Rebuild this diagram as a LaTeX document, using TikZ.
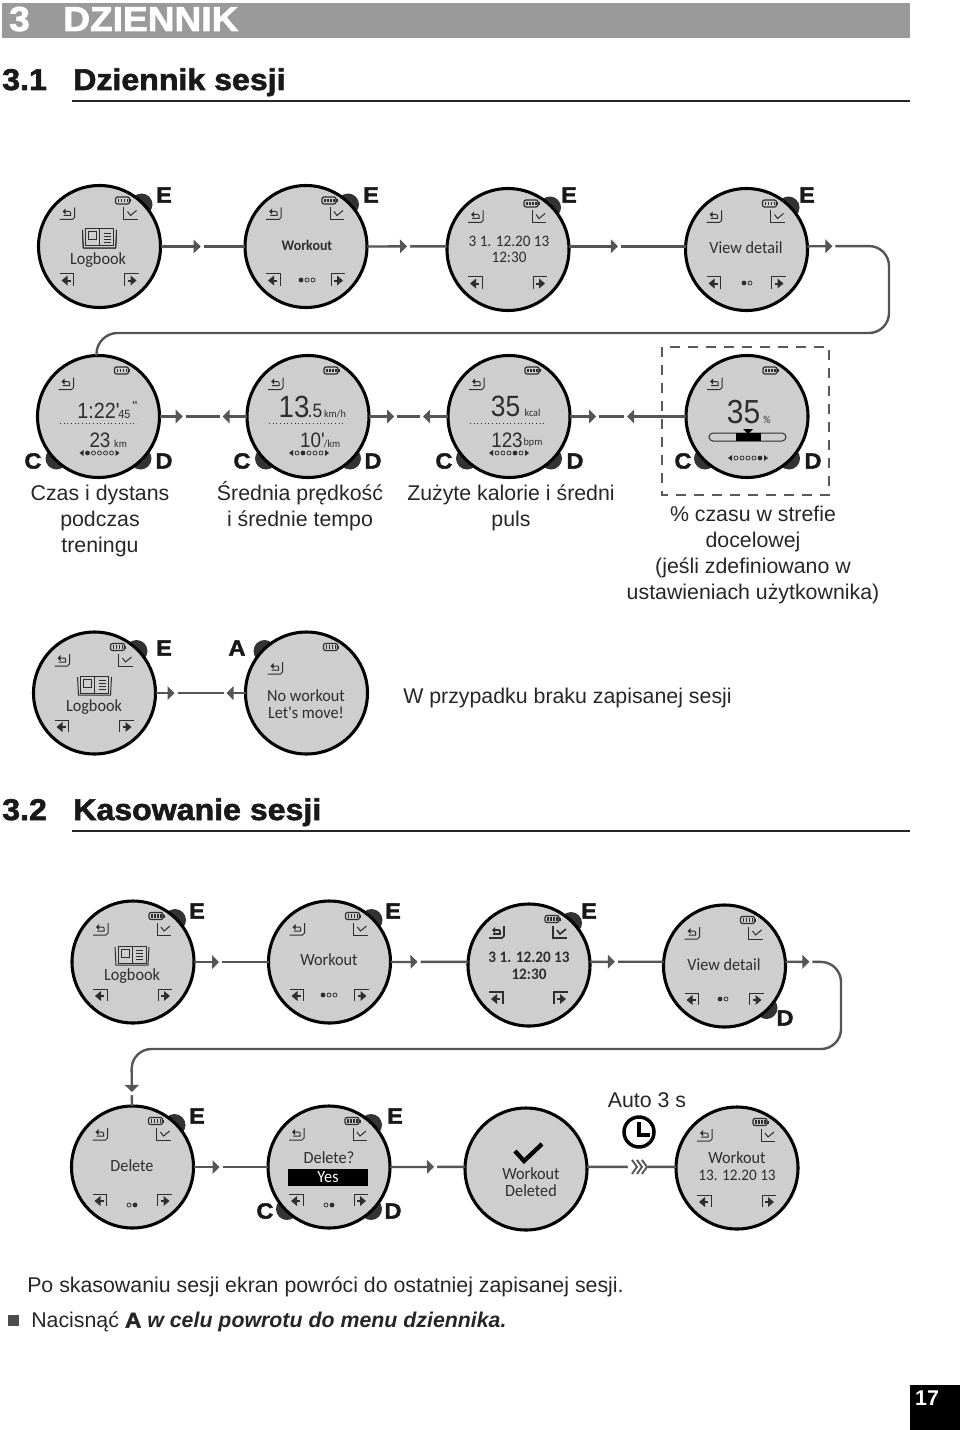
\documentclass[tikz,border=0pt]{standalone}
\usepackage{fontspec}
\setmainfont{Liberation Sans}
\newfontfamily\heavyfont[FakeBold=2,FakeStretch=1.07]{Liberation Sans Bold}
\newfontfamily\lcdfont[FakeStretch=0.95]{Carlito}
\newfontfamily\segfont[FakeStretch=0.9]{Liberation Sans}
\usetikzlibrary{decorations.markings}
\usetikzlibrary{positioning}
\definecolor{fg}{rgb}{0,0,0}
\definecolor{facegray}{HTML}{CECECE}
\definecolor{linkgray}{HTML}{555555}
\definecolor{bandgray}{HTML}{9A9A9A}
\definecolor{lcdink}{HTML}{2E2E2E}
\tikzstyle{face}=[circle, draw=fg, fill=facegray, line width=2.3pt, minimum size=91.5pt, inner sep=0pt, outer sep=0pt]
\tikzstyle{knob}=[fill=black!80]
\tikzstyle{key}=[font=\heavyfont\fontsize{16.5}{17}\selectfont, text=black!90, inner sep=0pt]
\tikzstyle{body}=[font=\fontsize{16}{19.5}\selectfont, text=black!85, align=center, inner sep=0pt]
\tikzstyle{lcd}=[font=\lcdfont\fontsize{12.8}{14}\selectfont, text=lcdink, inner sep=0pt]
\tikzstyle{lcddate}=[font=\lcdfont\fontsize{12}{13}\selectfont, text=lcdink, inner sep=0pt]
\tikzstyle{lcdsmall}=[font=\lcdfont\fontsize{8}{9}\selectfont, text=lcdink, inner sep=0pt, anchor=base]
\tikzstyle{seg}=[text=lcdink, inner sep=0pt, anchor=base]
\tikzstyle{ico}=[draw=lcdink, line width=0.75pt]
\tikzstyle{icofill}=[fill=lcdink]
\tikzstyle{headline}=[font=\heavyfont\fontsize{22.5}{23}\selectfont, text=black!90, inner sep=0pt, anchor=base west]
\tikzstyle{bandtext}=[font=\heavyfont\fontsize{26}{27}\selectfont, text=white, inner sep=0pt, anchor=base west]
\tikzstyle{rule}=[line width=1.2pt, draw=black!85]
\tikzstyle{link}=[draw=linkgray, line width=1.8pt]
\tikzset{
    fwdtip/.style={postaction={decorate, decoration={markings, mark=at position #1*0.75pt with {
        \fill[white, sharp corners] (3,-2) rectangle (7,2);
        \fill[linkgray, sharp corners] (-3,-7) -- (4,0) -- (-3,7) -- cycle;}}}},
    backtip/.style={postaction={decorate, decoration={markings, mark=at position #1*0.75pt with {
        \fill[white, sharp corners] (-3,-2) rectangle (-7,2);
        \fill[linkgray, sharp corners] (3,-7) -- (-4,0) -- (3,7) -- cycle;}}}},
    autotip/.style={postaction={decorate, decoration={markings, mark=at position #1*0.75pt with {
        \fill[white, sharp corners] (-10,-8) rectangle (10,8);
        \foreach \c in {-6,-1,4} \draw[linkgray, line width=1.4pt, sharp corners] (\c,-7) -- (\c+5,0) -- (\c,7);}}}},
    backicon/.pic={
        \draw[ico] (-8,6) -- (5,6) -- (7,4) -- (7,-6);
        \draw[ico] (-3,-2) -- (2,-2) -- (3,-1) -- (3,2) -- (-4,2);
        \fill[icofill] (-5,-2) -- (-2,-5) -- (-2,1) -- cycle;
    },
    checkicon/.pic={
        \draw[ico] (-7,-6) -- (-7,6) -- (7,6);
        \draw[ico] (-3,-2) -- (0,2) -- (6,-3);
    },
    lefticon/.pic={
        \draw[ico] (-8,-6) -- (6,-6) -- (6,6);
        \draw[ico, line width=1.5pt] (-2,1) -- (3,1);
        \fill[icofill] (-6,1) -- (0,-4) -- (0,6) -- cycle;
    },
    righticon/.pic={
        \draw[ico] (8,-6) -- (-6,-6) -- (-6,6);
        \draw[ico, line width=1.5pt] (2,1) -- (-3,1);
        \fill[icofill] (6,1) -- (0,-4) -- (0,6) -- cycle;
    },
    batteryicon/.pic={
        \draw[ico, line width=0.9pt, rounded corners=1.5pt, fill=facegray] (-7,-3.5) rectangle (7,3.5);
        \fill[icofill] (7,-1.5) rectangle (8.5,1.5);
        \foreach \c in {-5,-2,1,4} \fill[icofill] (\c,-1.8) rectangle (\c+1.8,1.8);
    },
    bookicon/.pic={
        \draw[ico, fill=facegray] (-17,-8) -- (-16,10) -- (16,10) -- (17,-8);
        \draw[ico, fill=facegray] (-14,-9) rectangle (0,8);
        \draw[ico, fill=facegray] (0,-9) rectangle (14,8);
        \draw[ico] (-11,-6) rectangle (-3,2);
        \foreach \c in {-5,-2,1,4} \draw[ico, line width=0.5pt] (4,\c) -- (11,\c);
    },
}
% watch with its side buttons
\newcommand{\watch}[4]{
    \foreach \bx/\by in {#4} \fill[knob] (#2+\bx,#3+\by) circle (11);
    \node[face] (#1) at (#2,#3) {};
}
% the four corner symbols of a menu screen
\newcommand{\menuicons}[1]{
    \pic at ([shift={(-32,-33)}]#1.center) {backicon};
    \pic at ([shift={(31,-33)}]#1.center) {checkicon};
    \pic at ([shift={(-32,33)}]#1.center) {lefticon};
    \pic at ([shift={(31,33)}]#1.center) {righticon};
    \pic at ([shift={(23,-46)}]#1.center) {batteryicon};
}
\newcommand{\dotrow}[4]{
    \foreach \i in {1,...,#3} {
        \pgfmathsetmacro\dx{(\i-(#3+1)/2)*6}
        \ifnum\i=#4
            \fill[icofill] (#1+\dx,#2) circle (2.4);
        \else
            \draw[ico, line width=0.55pt] (#1+\dx,#2) circle (2);
        \fi
    }
}
\newcommand{\dotarrows}[2]{
    \fill[icofill] (#1-20,#2) -- (#1-16,#2-3) -- (#1-16,#2+3) -- cycle;
    \fill[icofill] (#1+20,#2) -- (#1+16,#2-3) -- (#1+16,#2+3) -- cycle;
}

\begin{document}
\begin{tikzpicture}[x=0.75pt, y=-0.75pt]
    \useasboundingbox (0,0) rectangle (960,1430);

    % title band
    \fill[bandgray] (2,3) rectangle (910,38);
    \node[bandtext] (chapnum) at (9,31) {3};
    \node[bandtext] (chaptitle) at (63,31) {DZIENNIK};

    % 3.1
    \node[headline] (secAnum) at (2,90) {3.1};
    \node[headline] (secAtitle) at (73,90) {Dziennik sesji};
    \draw[rule] (72,101) -- (910,101);

    \watch{logA}{99.5}{246.5}{42/-42}
    \watch{workA}{306}{246.5}{42/-42}
    \watch{dateA}{508}{249.5}{42/-42}
    \watch{viewA}{746.5}{249.5}{42/-42}
    \foreach \w in {logA, workA, dateA, viewA} \menuicons{\w}
    \pic at (99.5,238) {bookicon};
    \node[lcd] (logAt) at (98,260) {Logbook};
    \node[lcd, font=\lcdfont\bfseries\fontsize{11}{12}\selectfont] (workAt) at (307,245) {Workout};
    \dotrow{307}{280}{3}{1}
    \node[lcddate] (dateAt) at (509,241) {3 1. 12.20 13};
    \node[lcddate] (timeAt) at (509,257) {12:30};
    \node[lcd] (viewAt) at (746,248) {View detail};
    \dotrow{747}{283}{2}{1}
    \node[key] (eA) at (164,195) {E};
    \node[key] (eB) at (371,195) {E};
    \node[key] (eC) at (569,195) {E};
    \node[key] (eD) at (807,195) {E};

    \watch{timeB}{98.5}{416.5}{-42/42,42/42}
    \watch{speedB}{308}{416.5}{-42/42,42/42}
    \watch{calB}{509}{416.5}{-42/42,42/42}
    \watch{zoneB}{747}{416.5}{-42/42,42/42}
    \foreach \w in {timeB, speedB, calB, zoneB} {
        \pic at ([shift={(-32,-33)}]\w.center) {backicon};
        \pic at ([shift={(23,-46)}]\w.center) {batteryicon};
    }
    \node[seg, font=\segfont\fontsize{16.5}{17}\selectfont] (timeBa) at (98.5,418) {1:22'};
    \node[seg, font=\segfont\fontsize{9}{10}\selectfont] (timeBb) at (124.5,418) {45};
    \node[seg, font=\segfont\fontsize{11}{12}\selectfont] (timeBc) at (135,411) {"};
    \draw[ico, dotted] (60,423) -- (137,423);
    \node[seg, font=\segfont\fontsize{15.7}{16}\selectfont] (timeBd) at (100,447) {23};
    \node[lcdsmall] (timeBe) at (120.5,447) {km};
    \dotrow{99.5}{453}{5}{1} \dotarrows{99.5}{453}

    \node[seg, font=\segfont\fontsize{23}{24}\selectfont] (speedBa) at (294,417) {13};
    \node[seg, font=\segfont\fontsize{14.5}{15}\selectfont] (speedBb) at (315,417) {.5};
    \node[lcdsmall] (speedBc) at (335,417) {km/h};
    \draw[ico, dotted] (269,423) -- (346,423);
    \node[seg, font=\segfont\fontsize{15.7}{16}\selectfont] (speedBd) at (312.5,447) {10'};
    \node[lcdsmall] (speedBe) at (332,447) {/km};
    \dotrow{309}{453}{5}{2} \dotarrows{309}{453}

    \node[seg, font=\segfont\fontsize{22}{23}\selectfont] (calBa) at (505.5,416) {35};
    \node[lcdsmall] (calBb) at (532.5,416) {kcal};
    \draw[ico, dotted] (470,423) -- (547,423);
    \node[seg, font=\segfont\fontsize{15.7}{16}\selectfont] (calBc) at (507,447) {123};
    \node[lcdsmall] (calBd) at (533,445) {bpm};
    \dotrow{509}{453}{5}{4} \dotarrows{509}{453}

    \node[seg, font=\segfont\fontsize{25}{26}\selectfont] (zoneBa) at (743.5,423) {35};
    \node[lcdsmall] (zoneBb) at (767,423) {\%};
    \draw[ico, rounded corners=3pt] (709,433) rectangle (786,441);
    \fill[black] (736,433) rectangle (761,441);
    \fill[black] (743,429) -- (753,429) -- (748,434) -- cycle;
    \dotrow{748}{458}{5}{5} \dotarrows{748}{458}

    \node[key] (cB) at (33,461) {C};
    \node[key] (dB) at (164,461) {D};
    \node[key] (cC) at (242,461) {C};
    \node[key] (dC) at (373,461) {D};
    \node[key] (cD) at (444,461) {C};
    \node[key] (dD) at (575,461) {D};
    \node[key] (cE) at (683,461) {C};
    \node[key] (dE) at (813,461) {D};

    \draw[black!65, line width=0.9pt, dash pattern=on 7.5pt off 6pt] (662,347) rectangle (829,495);

    \node[body] (capA) at (100,521) {Czas i dystans\\podczas\\treningu};
    \node[body] (capB) at (300,506) {Średnia prędkość\\i średnie tempo};
    \node[body] (capC) at (511,508) {Zużyte kalorie i średni\\puls};
    \node[body] (capD) at (753,555) {\% czasu w strefie\\docelowej\\(jeśli zdefiniowano w\\ustawieniach użytkownika)};

    \coordinate (turnA) at (889,246);
    \coordinate (turnB) at (889,333);
    \coordinate (turnC) at (97.5,333);
    \draw[link, fwdtip=36] (logA) -- (workA);
    \draw[link, fwdtip=36] (workA.east) -- (dateA.177);
    \draw[link, fwdtip=45] (dateA.3) -- (viewA.177);
    \draw[link, rounded corners=15pt, fwdtip=21] (viewA.3) -- (turnA) -- (turnB) -- (turnC) -- (timeB.92);
    \draw[link, fwdtip=19, backtip=67] (timeB) -- (speedB);
    \draw[link, fwdtip=21, backtip=58] (speedB) -- (calB);
    \draw[link, fwdtip=22, backtip=61] (calB) -- (zoneB);

    % no session stored
    \watch{logC}{94.5}{693}{42/-42}
    \watch{emptyC}{306.5}{693}{-42/-42}
    \menuicons{logC}
    \pic at ([shift={(-31,-25)}]emptyC.center) {backicon};
    \pic at ([shift={(24,-46)}]emptyC.center) {batteryicon};
    \pic at (94.5,685) {bookicon};
    \node[lcd] (logCt) at (94,707) {Logbook};
    \node[lcd] (emptyCa) at (306,696) {No workout};
    \node[lcd] (emptyCb) at (306,713) {Let's move!};
    \node[key] (eF) at (164,648) {E};
    \node[key] (aF) at (237,648) {A};
    \draw[link, fwdtip=15, backtip=75] (logC) -- (emptyC);
    \node[body, anchor=west] (capE) at (403,698) {W przypadku braku zapisanej sesji};

    % 3.2
    \node[headline] (secBnum) at (2,820) {3.2};
    \node[headline] (secBtitle) at (73,820) {Kasowanie sesji};
    \draw[rule] (72,831) -- (910,831);

    \watch{logD}{133}{962}{42/-42}
    \watch{workD}{329.5}{962}{42/-42}
    \watch{dateD}{529}{965}{42/-42}
    \watch{viewD}{724.5}{966}{42/42}
    \menuicons{logD}
    \menuicons{workD}
    \begin{scope}[ico/.append style={line width=1.25pt}]
        \menuicons{dateD}
    \end{scope}
    \menuicons{viewD}
    \pic at (132,955) {bookicon};
    \node[lcd] (logDt) at (132,976) {Logbook};
    \node[lcd] (workDt) at (329,960) {Workout};
    \dotrow{329}{995}{3}{1}
    \node[lcddate, font=\lcdfont\bfseries\fontsize{12}{13}\selectfont] (dateDt) at (529,957) {3 1. 12.20 13};
    \node[lcddate, font=\lcdfont\bfseries\fontsize{12}{13}\selectfont] (timeDt) at (529,974) {12:30};
    \node[lcd] (viewDt) at (724,965) {View detail};
    \dotrow{723}{999}{2}{1}
    \node[key] (eG) at (197,911) {E};
    \node[key] (eH) at (393,911) {E};
    \node[key] (eI) at (589,911) {E};
    \node[key] (dI) at (785,1018) {D};

    \watch{delE}{132.5}{1167}{42/-42}
    \watch{askE}{329}{1167}{42/-42,-42/42,42/42}
    \node[face] (doneE) at (526,1169) {};
    \node[face] (backE) at (737,1168) {};
    \menuicons{delE}
    \menuicons{askE}
    \menuicons{backE}
    \node[lcd] (delEt) at (132,1166) {Delete};
    \dotrow{132}{1205}{2}{2}
    \node[lcd] (askEt) at (329,1158) {Delete?};
    \fill[black] (288,1169) rectangle (368,1186);
    \node[lcd, text=white] (askEy) at (328,1177) {Yes};
    \dotrow{329}{1205}{2}{2}
    \draw[black, line width=3.2pt] (515,1151) -- (524,1161) -- (542,1144);
    \node[lcd] (doneEa) at (531,1174) {Workout};
    \node[lcd] (doneEb) at (531,1191) {Deleted};
    \node[lcd] (backEa) at (737,1158) {Workout};
    \node[lcddate] (backEb) at (737,1175) {13. 12.20 13};
    \node[key] (eJ) at (197,1116) {E};
    \node[key] (eK) at (395,1116) {E};
    \node[key] (cK) at (265,1211) {C};
    \node[key] (dK) at (393,1211) {D};

    \node[body] (autoE) at (647,1100) {Auto 3 s};
    \node[circle, draw=black, line width=2.6pt, minimum size=22.5pt, inner sep=0pt] (clockE) at (639,1132) {};
    \draw[black, line width=2.6pt] (639,1122) -- (639,1135) -- (650,1135);

    \coordinate (turnD) at (841,962);
    \coordinate (turnE) at (841,1049);
    \coordinate (turnF) at (131.5,1049);
    \draw[link, fwdtip=21] (logD) -- (workD);
    \draw[link, fwdtip=23] (workD.east) -- (dateD.177);
    \draw[link, fwdtip=21] (dateD.3) -- (viewD.176);
    \draw[link, rounded corners=15pt, fwdtip=20, fwdtip=-18] (viewD.4) -- (turnD) -- (turnE) -- (turnF) -- (delE);
    \draw[link, fwdtip=22] (delE) -- (askE);
    \draw[link, fwdtip=40] (askE.east) -- (doneE.178);
    \draw[link, autotip=51] (doneE.2) -- (backE.179);

    % closing text
    \node[body, anchor=west] (noteA) at (27,1287) {Po skasowaniu sesji ekran powróci do ostatniej zapisanej sesji.};
    \fill[black!70] (8,1315) rectangle (19,1326);
    \node[body, anchor=west] (noteB) at (31,1322) {Nacisnąć {\heavyfont A} {\bfseries\itshape w celu powrotu do menu dziennika.}};

    \fill[black] (910,1385) rectangle (960,1430);
    \node[font=\bfseries\fontsize{16}{17}\selectfont, text=white, inner sep=0pt] (pagenum) at (927,1398) {17};
\end{tikzpicture}
\end{document}
